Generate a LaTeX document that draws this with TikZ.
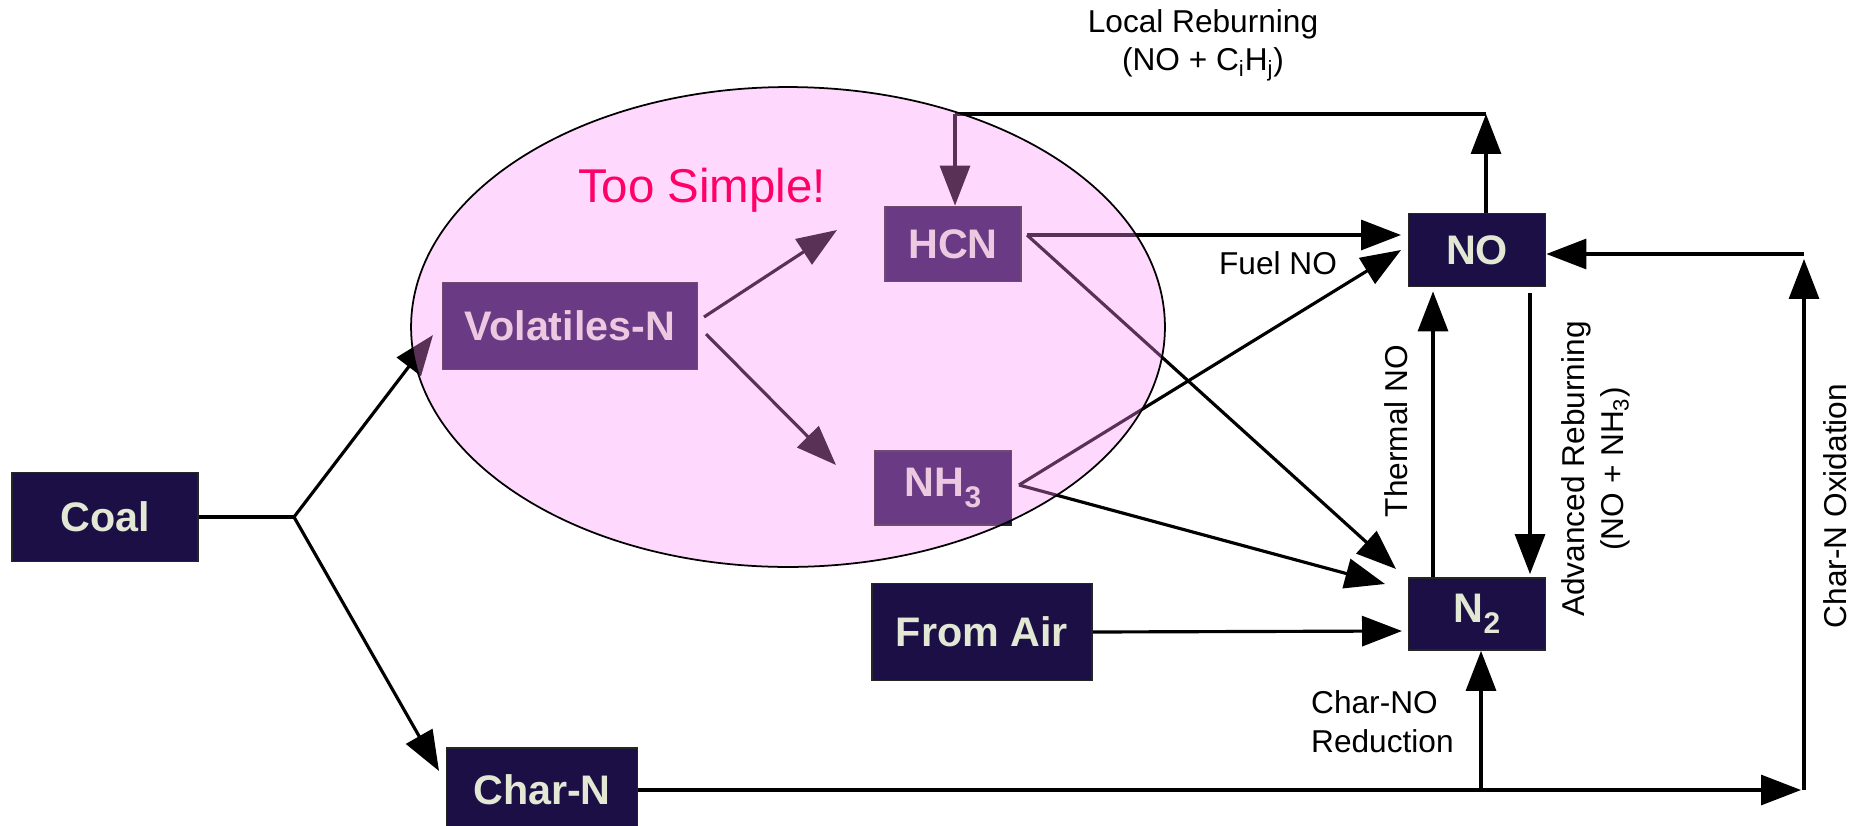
\documentclass[tikz,border=0pt]{standalone}
\usepackage{fontspec}
\setmainfont{Liberation Sans}
\usepackage{tikz}
\usetikzlibrary{arrows.meta, calc}

\definecolor{boxfill}{HTML}{1B0F45}
\definecolor{boxtext}{HTML}{E2E8D4}
\definecolor{veil}{HTML}{FF8FFA}
\definecolor{warn}{HTML}{FF0066}

\newcommand{\lowsub}[1]{\raisebox{-0.5ex}{\fontsize{17}{20}\selectfont #1}}

\begin{document}
\begin{tikzpicture}[x=0.02cm, y=-0.02cm,
        species/.style={draw=black!85, line width=1pt, fill=boxfill, text=boxtext, inner sep=0pt, font=\fontsize{23.5}{28}\selectfont\bfseries},
        flow/.style={-{Triangle[length=0.8cm, width=0.6cm]}, line width=1.8pt},
        link/.style={line width=1.8pt},
        lbl/.style={font=\fontsize{18}{22}\selectfont, align=center}
    ]
        \useasboundingbox (0,0) rectangle (1868,825);

        \node[species, minimum width=3.72cm, minimum height=1.78cm] (coal) at (105,517) {Coal};
        \node[species, minimum width=3.82cm, minimum height=1.68cm] (charn) at (542,790) {Char-N};
        \node[species, minimum width=5.1cm, minimum height=1.74cm] (vol) at (570,326) {Volatiles-N};
        \node[species, minimum width=2.72cm, minimum height=1.5cm] (hcn) at (953,244) {HCN};
        \node[species, minimum width=2.74cm, minimum height=1.48cm] (nh3) at (943,488) {NH\lowsub{3}};
        \node[species, minimum width=4.4cm, minimum height=1.94cm] (air) at (982,632) {From Air};
        \node[species, minimum width=2.74cm, minimum height=1.46cm] (no) at (1477,250) {NO};
        \node[species, minimum width=2.74cm, minimum height=1.44cm] (ntwo) at (1477,614) {N\lowsub{2}};

        \coordinate (split) at (294,517);
        \coordinate (hcnout) at (1027,235);
        \coordinate (nh3out) at (1019,485);
        \coordinate (thermal) at (1433,0);
        \coordinate (advanced) at (1530,0);
        \coordinate (reburn) at (1486,114);
        \coordinate (reburnend) at (955,114);
        \coordinate (charsplit) at (1481,790);
        \coordinate (oxid) at (1804,790);
        \coordinate (oxidtop) at (1804,254);

        % coal splits into volatiles and char
        \draw[link] (coal.east) -- (split);
        \draw[flow] (split) -- (433,335);
        \draw[flow] (split) -- (439,771);

        \draw[flow] (704,317) -- (837,230);
        \draw[flow] (706,334) -- (836,465);

        % fuel NO paths
        \draw[flow] (hcnout) -- (1401,235);
        \draw[flow] (hcnout) -- (1396,569);
        \draw[flow] (nh3out) -- (1401,250);
        \draw[flow] (nh3out) -- (1385,584);
        \draw[flow] (air.east) -- (1402,631);

        \draw[flow] (ntwo.north -| thermal) -- ($(no.south -| thermal)+(0,4)$);
        \draw[flow] ($(no.south -| advanced)+(0,6)$) -- ($(ntwo.north -| advanced)+(0,-3)$);

        % local reburning loop back to HCN
        \draw[flow] (no.north -| reburn) -- (reburn);
        \draw[link] (reburn) -- (reburnend);
        \draw[flow] (reburnend) -- (hcn.north -| reburnend);

        % char-N routes
        \draw[flow] (charn.east |- oxid) -- (1801,790);
        \draw[flow] (charsplit) -- (ntwo.south -| charsplit);
        \draw[flow] (oxid) -- (1804,259);
        \draw[flow] (oxidtop) -- (no.east |- oxidtop);

        % the volatiles region
        \draw[fill=veil, fill opacity=0.35, line width=1pt] (788,327) ellipse [x radius=7.54cm, y radius=4.8cm];
        \node[text=warn, font=\fontsize{27}{32}\selectfont] (simple) at (702,190) {Too Simple!};

        \node[lbl] (localtxt) at (1203,45) {Local Reburning\\(NO + C\textsubscript{i}H\textsubscript{j})};
        \node[lbl] (fueltxt) at (1278,263) {Fuel NO};
        \node[lbl, rotate=90] (thermtxt) at (1396,431) {Thermal NO};
        \node[lbl, rotate=90] (advtxt) at (1596,469) {Advanced Reburning\\(NO + NH\textsubscript{3})};
        \node[lbl, rotate=90] (oxidtxt) at (1835,506) {Char-N Oxidation};
        \node[lbl, align=left, anchor=west] (redtxt) at (1305,722) {Char-NO\\Reduction};
    \end{tikzpicture}
\end{document}
